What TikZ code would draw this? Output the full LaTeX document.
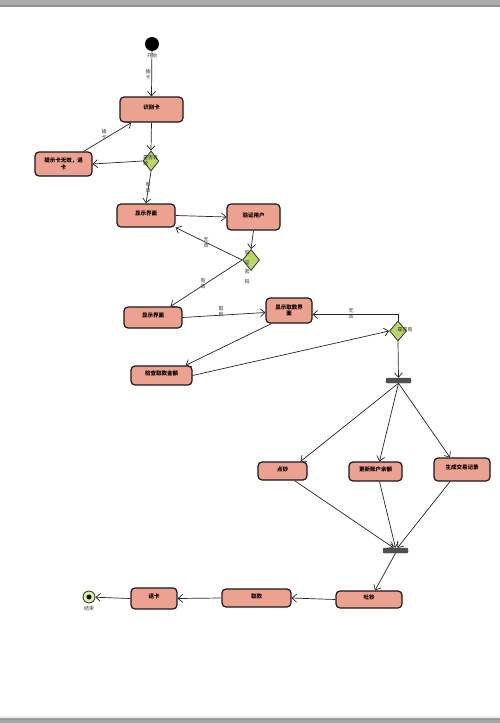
\documentclass[tikz,border=0pt]{standalone}
\usepackage{fontspec}
\newfontfamily\cjk{Noto Sans CJK SC}
\usetikzlibrary{arrows.meta,shapes.geometric}
\definecolor{actfill}{HTML}{EDA190}
\definecolor{decfill}{HTML}{B9D66B}
\definecolor{barc}{HTML}{505050}
\definecolor{endfill}{HTML}{D8F09A}
\begin{document}
\begin{tikzpicture}[x=1pt,y=-1pt,
  act/.style={draw=black!90, line width=1.2pt, rounded corners=4pt, fill=actfill,
    font=\cjk\bfseries\fontsize{5.5}{6.5}\selectfont, inner sep=1pt, align=center, text depth=4pt},
  act2/.style={act, text depth=1pt},
  dec/.style={diamond, draw=black!80, line width=0.8pt, fill=decfill, inner sep=0pt,
    minimum width=16pt, minimum height=20pt},
  bar/.style={draw=barc, fill=barc, rounded corners=1pt, inner sep=0pt, minimum width=25pt, minimum height=5pt},
  lbl/.style={font=\cjk\fontsize{5}{6}\selectfont, text=black!80, align=center, inner sep=0pt},
  flow/.style={draw=black!85, line width=0.7pt, -{Straight Barb[length=4.5pt,width=8pt]}}]
\useasboundingbox (0,0) rectangle (500,723);
% frame bars
\fill[gray!65] (0,0) rectangle (500,6);
\fill[gray!85] (0,5) rectangle (500,7);
\fill[gray!15] (0,716) rectangle (500,718);
\fill[gray!70] (0,718) rectangle (500,723);
\fill[gray!85] (0,718.5) rectangle (500,719.5);

% start / end
\node[circle, fill=black, minimum size=14pt, inner sep=0pt] (start) at (152,44) {};
\node[lbl] (startl) at (152,56) {开始};
\node[circle, draw=black!85, line width=0.8pt, fill=endfill, minimum size=12pt, inner sep=0pt] (end) at (89,597) {};
\node[circle, fill=black, minimum size=5pt, inner sep=0pt] (endi) at (89,597) {};
\node[lbl] (endl) at (89,609) {结束};

% activities
\node[act, minimum width=63pt, minimum height=25pt] (n1) at (151.5,109.5) {识别卡};
\node[act2, minimum width=57pt, minimum height=24pt] (n2) at (63.5,164) {提示卡无效，退\\卡};
\node[act, minimum width=58pt, minimum height=23pt] (n3) at (146,215.5) {显示界面};
\node[act, minimum width=53pt, minimum height=26pt] (n4) at (253.5,217) {验证用户};
\node[act, minimum width=58pt, minimum height=21pt] (n5) at (153,317.5) {显示界面};
\node[act2, minimum width=46pt, minimum height=25pt] (n6) at (289,310.5) {显示取款界\\面};
\node[act, minimum width=61pt, minimum height=19pt] (n7) at (161.5,375.5) {检查取款金额};
\node[act, minimum width=49pt, minimum height=18pt] (n8) at (282.5,471) {点钞};
\node[act, minimum width=53pt, minimum height=19pt] (n9) at (375.5,471.5) {更新账户余额};
\node[act, minimum width=56pt, minimum height=23pt] (n10) at (462,469.5) {生成交易记录};
\node[act, minimum width=66pt, minimum height=17pt] (n11) at (369,599.5) {吐钞};
\node[act, minimum width=69pt, minimum height=18pt] (n12) at (256.5,598) {取款};
\node[act, minimum width=46pt, minimum height=21pt] (n13) at (154,598.5) {退卡};

% decisions
\node[dec] (d1) at (151,161) {};
\node[dec, minimum width=17pt, minimum height=21pt] (d2) at (251,260) {};
\node[dec, minimum width=17pt, minimum height=20pt] (d3) at (398,331) {};
\node[lbl, align=left, anchor=west, text=black!85] (d1l) at (143,161) {是否有\\效};
\node[lbl, text=black!85, font=\cjk\fontsize{5}{9.5}\selectfont] (d2l) at (247,267) {验\\证\\密\\码};
\node[lbl, text=black!85] (d3l) at (405,330) {是否有};

% bars
\node[bar] (fork) at (398.5,380.5) {};
\node[bar] (join) at (395.5,550.5) {};

% connectors
\draw[flow] (start) -- (n1.north);
\node[lbl] (l1) at (148,75) {插\\卡};
\draw[flow] (n1.south) -- (d1.north);
\draw[flow] (d1.west) -- (n2.east);
\draw[flow] ([xshift=-9pt]n2.north east) -- ([xshift=12pt]n1.south west);
\node[lbl] (l2) at (104,135) {插\\卡};
\draw[flow] (d1.south) -- (n3.north);
\node[lbl] (l3) at (148,188) {有\\效};
\draw[flow] (n3.east) -- (n4.west);
\draw[flow] (n4.south) -- (d2.north);
\draw[flow] (d2.west) -- (n3.south east);
\node[lbl] (l4) at (206,243) {无\\效};
\draw[flow] (d2.west) -- ([xshift=-12pt]n5.north east);
\node[lbl] (l5) at (203,284) {有\\效};
\draw[flow] (n5.east) -- ([yshift=-2pt]n6.west);
\node[lbl] (l6) at (221,312) {取\\款};
\draw[flow] (d3.north) |- ([yshift=-4pt]n6.east);
\node[lbl] (l7) at (351,314) {无\\效};
\draw[flow] ([xshift=6pt]n6.south west) -- ([xshift=-7pt]n7.north east);
\draw[flow] (n7.east) -- (d3.west);
\draw[flow] (d3.south) -- (fork.north);
\draw[flow] (fork.south) -- ([xshift=-7pt]n8.north east);
\draw[flow] (fork.south) -- ([xshift=4pt]n9.north);
\draw[flow] (fork.south) -- ([xshift=-12pt]n10.north);
\draw[flow] ([xshift=12pt]n8.south) -- ([xshift=-2pt]join.north);
\draw[flow] ([xshift=4pt]n9.south) -- (join.north);
\draw[flow] ([xshift=-12pt]n10.south) -- ([xshift=2pt]join.north);
\draw[flow] (join.south) -- ([xshift=6pt]n11.north);
\draw[flow] (n11.west) -- (n12.east);
\draw[flow] (n12.west) -- (n13.east);
\draw[flow] (n13.west) -- (end);
\end{tikzpicture}
\end{document}
